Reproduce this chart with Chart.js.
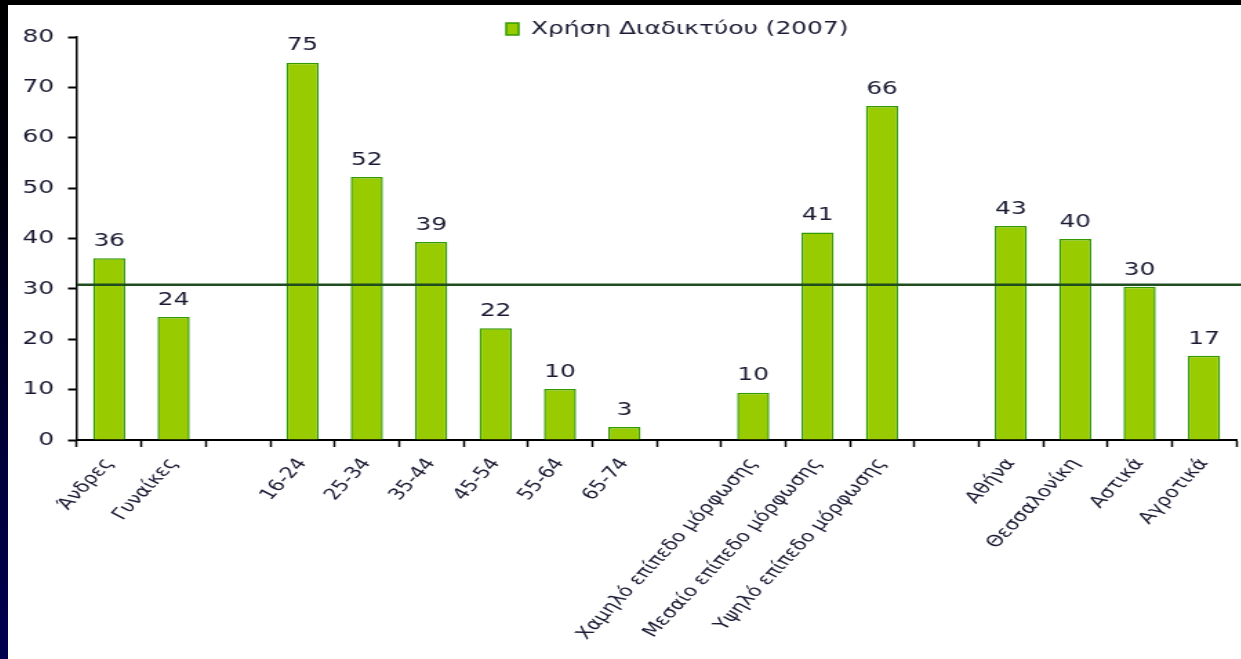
<!DOCTYPE html>
<html>
<head>
<meta charset="utf-8">
<script src="https://cdn.jsdelivr.net/npm/chart.js@4"></script>
<style>
  html, body { margin: 0; padding: 0; background: #000; width: 1241px; height: 659px; overflow: hidden; }
  #side { position: absolute; left: 0; top: 0; width: 8px; height: 659px;
          background: linear-gradient(to bottom, #000 0%, #000010 30%, #00003a 70%, #000050 100%); }
  #box { position: absolute; left: 8px; top: 5px; width: 1233px; height: 654px; background: #fff; overflow: hidden; }
  /* the reference picture is stretched sideways, so the canvas is too */
  #myChart { transform: scaleX(1.38); transform-origin: 0 0; }
</style>
</head>
<body>
<div id="side"></div>
<div id="box"><canvas id="myChart" width="894" height="654"></canvas></div>
<script>
const categories = [
    'Άνδρες', 'Γυναίκες', '',
    '16-24', '25-34', '35-44', '45-54', '55-64', '65-74', '',
    'Χαμηλό επίπεδο μόρφωσης', 'Μεσαίο επίπεδο μόρφωσης', 'Υψηλό επίπεδο μόρφωσης', '',
    'Αθήνα', 'Θεσσαλονίκη', 'Αστικά', 'Αγροτικά'
];
const values = [36.1, 24.4, null, 74.9, 52.2, 39.3, 22.2, 10.1, 2.6, null, 9.4, 41.2, 66.3, null, 42.5, 39.9, 30.4, 16.7];
const valueLabels = ['36', '24', '', '75', '52', '39', '22', '10', '3', '', '10', '41', '66', '', '43', '40', '30', '17'];
const average = 30.8;
const yTicks = [0, 10, 20, 30, 40, 50, 60, 70, 80];

const textColor = '#1a1a33';
const font = 'DejaVu Sans';

// value numbers above the bars
const barLabels = {
    id: 'barLabels',
    afterDatasetsDraw(chart) {
        const ctx = chart.ctx;
        const meta = chart.getDatasetMeta(0);
        ctx.save();
        ctx.font = '18px "' + font + '"';
        ctx.fillStyle = textColor;
        ctx.textAlign = 'center';
        ctx.textBaseline = 'bottom';
        meta.data.forEach((bar, i) => {
            if (values[i] == null) return;
            ctx.fillText(valueLabels[i], bar.x, bar.y - 8);
        });
        ctx.restore();
    }
};

// average line across the plot
const averageLine = {
    id: 'averageLine',
    afterDatasetsDraw(chart) {
        const ctx = chart.ctx;
        const y = chart.scales.y.getPixelForValue(average);
        ctx.save();
        ctx.strokeStyle = '#1f4d1f';
        ctx.lineWidth = 2.5;
        ctx.beginPath();
        ctx.moveTo(chart.chartArea.left, y);
        ctx.lineTo(chart.width, y);
        ctx.stroke();
        ctx.restore();
    }
};

const legendPlace = {
    id: 'legendPlace',
    beforeInit(chart) {
        const fit = chart.legend.fit;
        chart.legend.fit = function () {
            fit.bind(chart.legend)();
            this.height = 32;
        };
    },
    afterLayout(chart) {
        chart.legend.left += 40;
        chart.legend.right += 40;
    }
};

new Chart(document.getElementById('myChart'), {
    type: 'bar',
    data: {
        labels: categories,
        datasets: [{
            label: 'Χρήση Διαδικτύου (2007)',
            data: values,
            backgroundColor: '#99cc00',
            borderColor: '#339900',
            borderWidth: 1.5,
            categoryPercentage: 1,
            barPercentage: 0.5
        }]
    },
    options: {
        responsive: false,
        animation: false,
        layout: { padding: { left: 0, right: 4, top: 0, bottom: 0 } },
        plugins: {
            legend: {
                position: 'top',
                labels: {
                    boxWidth: 9,
                    boxHeight: 12,
                    padding: 15,
                    color: textColor,
                    font: { family: font, size: 18 }
                }
            },
            tooltip: { enabled: false }
        },
        scales: {
            x: {
                afterFit(scale) { scale.height = 219; },
                grid: { drawOnChartArea: false, tickLength: 7, color: '#000', tickWidth: 1.5 },
                border: { color: '#000', width: 2 },
                ticks: {
                    autoSkip: false,
                    maxRotation: 55,
                    minRotation: 55,
                    padding: 8,
                    color: textColor,
                    font: { family: font, size: 16 }
                }
            },
            y: {
                min: 0,
                max: 80,
                afterFit(scale) { scale.width = 50; },
                afterBuildTicks(scale) { scale.ticks = yTicks.map(v => ({ value: v })); },
                grid: { drawOnChartArea: false, tickLength: 6.5, color: '#000', tickWidth: 2 },
                border: { color: '#000', width: 1.5 },
                ticks: {
                    padding: 10,
                    color: textColor,
                    font: { family: font, size: 18 }
                }
            }
        }
    },
    plugins: [barLabels, averageLine, legendPlace]
});
</script>
</body>
</html>
